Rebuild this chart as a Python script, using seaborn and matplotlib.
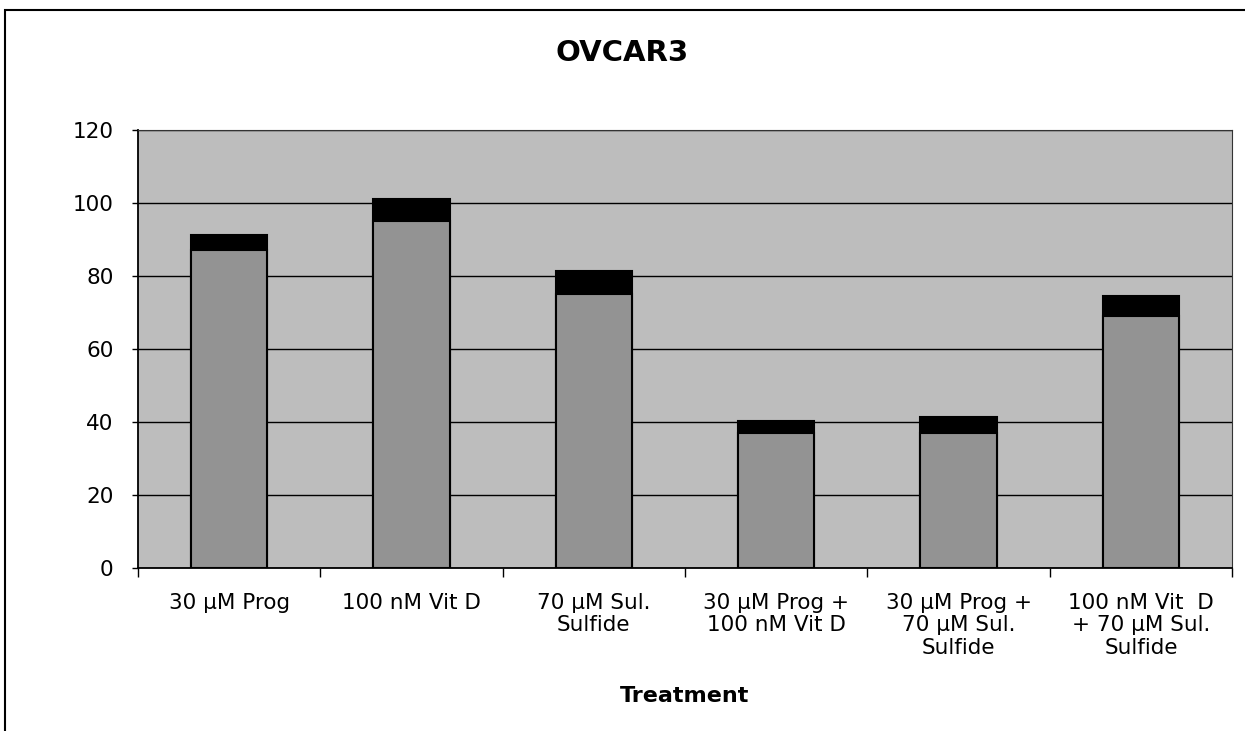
import numpy as np
import pandas as pd
import matplotlib
matplotlib.use("Agg")
import matplotlib.pyplot as plt
import seaborn as sns
from matplotlib.patches import Rectangle
from matplotlib.ticker import MultipleLocator, FixedLocator

# dados
tratamentos = ["30 µM Prog", "100 nM Vit D", "70 µM Sul.\nSulfide",
               "30 µM Prog +\n100 nM Vit D", "30 µM Prog +\n70 µM Sul.\nSulfide",
               "100 nM Vit  D\n+ 70 µM Sul.\nSulfide"]
medias = [87, 95, 75, 37, 37, 69]
erros = [4.2, 6.2, 6.5, 3.3, 4.4, 5.5]

df = pd.DataFrame({"Treatment": tratamentos, "media": medias, "erro": erros})
df["topo"] = df["media"] + df["erro"]

sns.set_theme(style="white")
plt.rcParams["font.family"] = ["DejaVu Sans"]

fig = plt.figure(figsize=(12.45, 7.31), dpi=100)
ax = fig.add_axes([0.1108, 0.2230, 0.8788, 0.5992])
ax.set_facecolor("#bdbdbd")

# barra preta (média + erro) por baixo, barra cinza (média) por cima
sns.barplot(data=df, x="Treatment", y="topo", color="black", width=0.42,
            edgecolor="black", linewidth=1.5, saturation=1, ax=ax, zorder=3)
sns.barplot(data=df, x="Treatment", y="media", color="#939393", width=0.42,
            edgecolor="black", linewidth=1.5, saturation=1, ax=ax, zorder=4)

ax.set_ylim(0, 120)
ax.set_xlim(-0.5, len(tratamentos) - 0.5)
ax.yaxis.set_major_locator(MultipleLocator(20))
ax.grid(axis="y", color="black", linewidth=1.0, zorder=1)
ax.set_axisbelow(True)

for lado in ["top", "right"]:
    ax.spines[lado].set_color("#333333")
    ax.spines[lado].set_linewidth(0.8)
for lado in ["left", "bottom"]:
    ax.spines[lado].set_color("black")
    ax.spines[lado].set_linewidth(1.3)

ax.tick_params(axis="y", which="major", left=True, length=4.5, width=1, color="black",
               labelsize=15.5, pad=13, labelcolor="black")
ax.tick_params(axis="x", which="major", bottom=False, labelsize=15.5, pad=12, labelcolor="black")
ax.xaxis.set_minor_locator(FixedLocator(np.arange(-0.5, len(tratamentos), 1.0)))
ax.tick_params(axis="x", which="minor", bottom=True, length=6.5, width=1, color="black")
for rotulo in ax.get_xticklabels():
    rotulo.set_linespacing(1.15)

ax.set_xlabel("Treatment", fontsize=16, fontweight="bold", labelpad=20, color="black")
ax.set_ylabel("")
fig.suptitle("OVCAR3", x=0.5, y=0.927, va="center", fontsize=21, fontweight="bold", color="black")

# moldura da figura
fig.patches.append(Rectangle((0.004, -0.05), 1.05, 1.036, transform=fig.transFigure,
                             fill=False, edgecolor="black", linewidth=1.5))

fig.savefig("out.png", dpi=100)
